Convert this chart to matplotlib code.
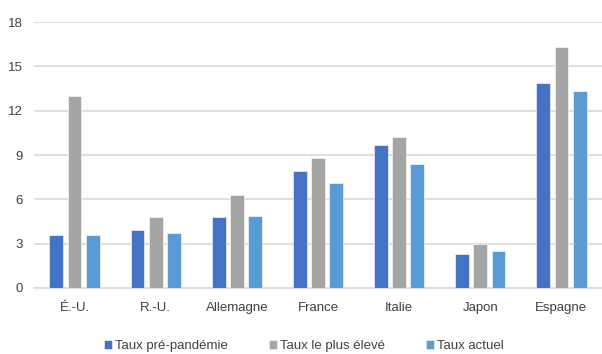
import matplotlib.pyplot as plt
import numpy as np

plt.rcParams['font.family'] = ['Liberation Sans', 'DejaVu Sans']

countries = ['É.-U.', 'R.-U.', 'Allemagne', 'France', 'Italie', 'Japon', 'Espagne']
pre_pandemie = [3.6, 3.9, 4.8, 7.9, 9.7, 2.3, 13.9]
plus_eleve = [13.0, 4.8, 6.3, 8.8, 10.2, 3.0, 16.3]
actuel = [3.6, 3.7, 4.9, 7.1, 8.4, 2.5, 13.3]

series = [
    ('Taux pré-pandémie', pre_pandemie, '#4472C4'),
    ('Taux le plus élevé', plus_eleve, '#A5A5A5'),
    ('Taux actuel', actuel, '#5B9BD5'),
]

fig = plt.figure(figsize=(6.02, 3.54), dpi=100)
ax = fig.add_axes([34 / 602, 1 - 288 / 354, 568 / 602, 266 / 354])

x = np.arange(len(countries))
width = 0.17
step = 0.224
for i, (label, vals, color) in enumerate(series):
    ax.bar(x + (i - 1) * step, vals, width, color=color, label=label,
           edgecolor='white', linewidth=0.4, zorder=3)

ax.set_xlim(-0.5, len(countries) - 0.5)
ax.set_ylim(0, 18)
ax.set_yticks(np.arange(0, 19, 3))
ax.set_xticks(x)
ax.set_xticklabels(countries)
ax.grid(axis='y', color='#D9D9D9', linewidth=1.2, zorder=0)
for s in ['top', 'right', 'left']:
    ax.spines[s].set_visible(False)
ax.spines['bottom'].set_color('#D9D9D9')
ax.spines['bottom'].set_linewidth(1.2)
ax.tick_params(axis='both', length=0, labelsize=9.5, colors='#404040')
ax.tick_params(axis='y', pad=8)
ax.tick_params(axis='x', pad=10)

fig.legend(loc='center', bbox_to_anchor=(0.505, 1 - 346 / 354), ncol=3,
           frameon=False, fontsize=9.5, handlelength=0.6, handleheight=0.6,
           handletextpad=0.25, columnspacing=3.1, labelcolor='#404040',
           borderaxespad=0, borderpad=0)

fig.savefig('out.png', dpi=100)
